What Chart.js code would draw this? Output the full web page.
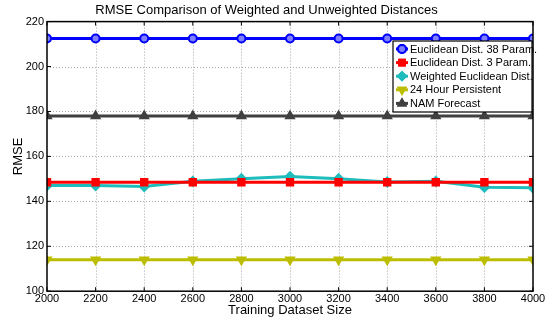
<!DOCTYPE html>
<html>
<head>
<meta charset="utf-8">
<script src="https://cdn.jsdelivr.net/npm/chart.js@4.4.1/dist/chart.umd.min.js"></script>
<style>
  html, body { margin:0; padding:0; background:#fff; }
  #wrap { width:558px; height:320px; }
</style>
</head>
<body>
<div id="wrap"><canvas id="c" width="558" height="320"></canvas></div>
<script>
// RMSE vs training set size
const sizes      = [2000, 2200, 2400, 2600, 2800, 3000, 3200, 3400, 3600, 3800, 4000];
const euclid38   = [212.5, 212.5, 212.5, 212.5, 212.5, 212.5, 212.5, 212.5, 212.5, 212.5, 212.5];
const euclid3    = [148.5, 148.5, 148.5, 148.5, 148.5, 148.5, 148.5, 148.5, 148.5, 148.5, 148.5];
const weighted   = [147.0, 147.0, 146.6, 148.9, 150.1, 151.0, 150.1, 148.6, 148.9, 146.3, 146.0];
const persistent = [114, 114, 114, 114, 114, 114, 114, 114, 114, 114, 114];
const namFcst    = [178, 178, 178, 178, 178, 178, 178, 178, 178, 178, 178];
const yTicks     = [100, 120, 140, 160, 180, 200, 220];

const FONT = "'Liberation Sans', Arial, Helvetica, sans-serif";

const pts = vals => vals.map((v, i) => ({x: sizes[i], y: v}));

const series = [
  {label:'Euclidean Dist. 38 Param.', data:pts(euclid38),   color:'#0000ff', style:'circle',   rot:0},
  {label:'Euclidean Dist. 3 Param.',  data:pts(euclid3),    color:'#ff0000', style:'rect',     rot:0},
  {label:'Weighted Euclidean Dist.',  data:pts(weighted),   color:'#1fbcbc', style:'rectRot',  rot:0},
  {label:'24 Hour Persistent',        data:pts(persistent), color:'#bdbd00', style:'triangle', rot:180},
  {label:'NAM Forecast',              data:pts(namFcst),    color:'#404040', style:'triangle', rot:0}
];

// dotted grid, drawn under the lines
const dottedGrid = {
  id: 'dottedGrid',
  beforeDatasetsDraw(chart) {
    const {ctx, chartArea: a} = chart;
    const xs = chart.scales.x, ys = chart.scales.y;
    ctx.save();
    ctx.strokeStyle = '#a8a8a8';
    ctx.lineWidth = 1;
    ctx.setLineDash([1, 2]);
    sizes.slice(1, -1).forEach(s => {
      const px = Math.round(xs.getPixelForValue(s)) + 0.5;
      ctx.beginPath(); ctx.moveTo(px, a.top); ctx.lineTo(px, a.bottom); ctx.stroke();
    });
    yTicks.slice(1, -1).forEach(t => {
      const py = Math.round(ys.getPixelForValue(t)) + 0.5;
      ctx.beginPath(); ctx.moveTo(a.left, py); ctx.lineTo(a.right, py); ctx.stroke();
    });
    ctx.restore();
  }
};

// frame + legend in MATLAB style
const matlabBox = {
  id: 'matlabBox',
  afterDatasetsDraw(chart) {
    const {ctx, chartArea: a} = chart;
    ctx.save();
    ctx.strokeStyle = '#000';
    ctx.lineWidth = 1.5;
    ctx.strokeRect(a.left, a.top, a.right - a.left, a.bottom - a.top);
    // inward ticks
    ctx.lineWidth = 1;
    const xs = chart.scales.x, ys = chart.scales.y;
    sizes.forEach(s => {
      const px = xs.getPixelForValue(s);
      ctx.beginPath();
      ctx.moveTo(px, a.bottom); ctx.lineTo(px, a.bottom - 4);
      ctx.moveTo(px, a.top); ctx.lineTo(px, a.top + 4);
      ctx.stroke();
    });
    yTicks.forEach(t => {
      const py = ys.getPixelForValue(t);
      ctx.beginPath();
      ctx.moveTo(a.left, py); ctx.lineTo(a.left + 4, py);
      ctx.moveTo(a.right, py); ctx.lineTo(a.right - 4, py);
      ctx.stroke();
    });

    // legend
    const bx = 393, by = 41, bw = 139, bh = 71, rowH = 13.6;
    ctx.fillStyle = '#fff';
    ctx.fillRect(bx, by, bw, bh);
    ctx.strokeStyle = '#000';
    ctx.lineWidth = 1.2;
    ctx.strokeRect(bx, by, bw, bh);
    ctx.font = '11px ' + FONT;
    ctx.textBaseline = 'middle';
    series.forEach((s, i) => {
      const cy = by + 8 + i * rowH;
      ctx.strokeStyle = s.color;
      ctx.lineWidth = 3;
      ctx.beginPath();
      ctx.moveTo(bx + 3, cy); ctx.lineTo(bx + 15, cy);
      ctx.stroke();
      ctx.fillStyle = s.style === 'circle' ? '#7f7fff' : s.color;
      ctx.lineWidth = 2;
      Chart.helpers.drawPoint(ctx, {pointStyle: s.style, radius: 4, rotation: s.rot, borderWidth: 2}, bx + 9, cy);
      ctx.fill();
      ctx.stroke();
      ctx.fillStyle = '#000';
      ctx.fillText(s.label, bx + 17, cy + 0.5);
    });
    ctx.restore();
  }
};

const hiddenGrid = {drawOnChartArea: false, drawTicks: false, color: 'rgba(0,0,0,0)'};

new Chart(document.getElementById('c'), {
  type: 'line',
  data: {
    datasets: series.map(s => ({
      label: s.label,
      data: s.data,
      borderColor: s.color,
      backgroundColor: s.color,
      borderWidth: 3,
      pointStyle: s.style,
      pointRotation: s.rot,
      pointRadius: s.style === 'circle' ? 4 : 4.5,
      pointBorderWidth: 2,
      pointBackgroundColor: s.style === 'circle' ? '#7f7fff' : s.color,
      tension: 0
    }))
  },
  options: {
    responsive: false,
    animation: false,
    layout: {padding: {left: 0, right: 25, top: 0, bottom: 0}},
    plugins: {
      legend: {display: false},
      tooltip: {enabled: false},
      title: {
        display: true,
        text: 'RMSE Comparison of Weighted and Unweighted Distances',
        color: '#000',
        font: {family: FONT, size: 13, weight: 'normal'},
        padding: {top: 3, bottom: 3}
      }
    },
    scales: {
      x: {
        type: 'linear',
        min: 2000, max: 4000,
        afterBuildTicks: sc => { sc.ticks = sizes.map(v => ({value: v})); },
        ticks: {color: '#000', font: {family: FONT, size: 11}, padding: 1, maxRotation: 0,
                callback: v => String(v)},
        grid: hiddenGrid,
        border: {display: false},
        title: {display: true, text: 'Training Dataset Size', color: '#000',
                font: {family: FONT, size: 13}, padding: {top: -4, bottom: 2}}
      },
      y: {
        min: 100, max: 220,
        afterBuildTicks: sc => { sc.ticks = yTicks.map(v => ({value: v})); },
        afterFit: sc => { sc.width = 47; },
        ticks: {color: '#000', font: {family: FONT, size: 11}, padding: 3},
        grid: hiddenGrid,
        border: {display: false},
        title: {display: true, text: 'RMSE', color: '#000',
                font: {family: FONT, size: 13}, padding: {top: 11, bottom: 0}}
      }
    }
  },
  plugins: [dottedGrid, matlabBox]
});
</script>
</body>
</html>
